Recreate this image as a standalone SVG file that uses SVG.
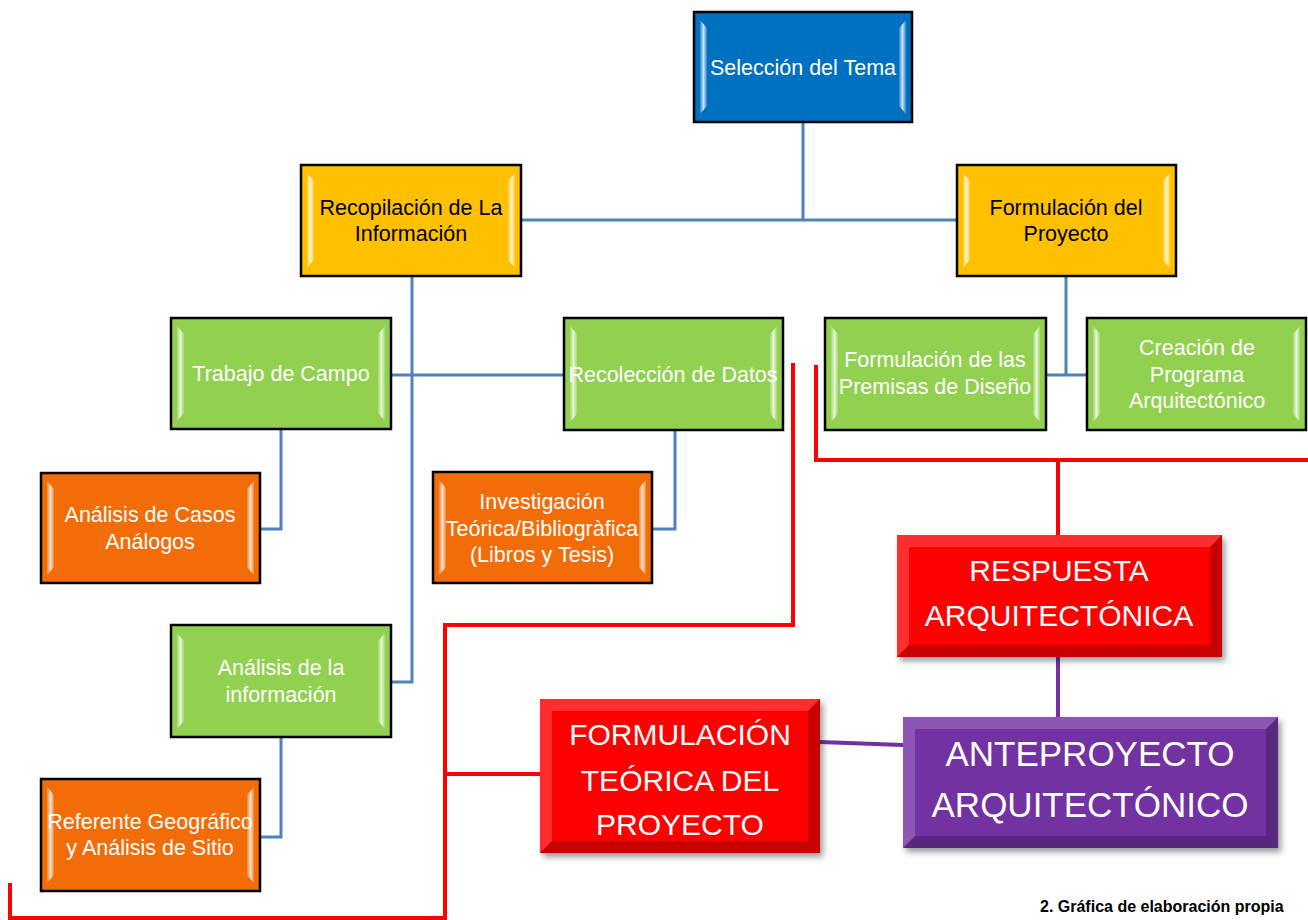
<svg xmlns="http://www.w3.org/2000/svg" width="1308" height="920" viewBox="0 0 1308 920">
<defs>
<linearGradient id="hl" x1="0" y1="0" x2="1" y2="0">
<stop offset="0" stop-color="#fff" stop-opacity="0.15"/>
<stop offset="0.5" stop-color="#fff" stop-opacity="0.8"/>
<stop offset="1" stop-color="#fff" stop-opacity="0.15"/>
</linearGradient>
<filter id="sh" x="-10%" y="-10%" width="125%" height="130%">
<feDropShadow dx="3" dy="4" stdDeviation="3" flood-color="#000" flood-opacity="0.4"/>
</filter>
<style>
.box{stroke:#000;stroke-width:2.5}
.blue{fill:#0070C0}
.yellow{fill:#FFC000}
.green{fill:#92D050}
.orange{fill:#F26C08}
.red{fill:#FF0000}
.purple{fill:#7232A2}
.hl{fill:url(#hl)}
.lt{fill:#fff;opacity:0.18}
.dk{fill:#000;opacity:0.22}
.t{font-family:"Liberation Sans",Arial,sans-serif;font-size:21.5px;text-anchor:middle;fill:#fff}
.tb{fill:#000}
.big{font-size:30px}
.big2{font-size:35px}
.cb{fill:none;stroke:#4F81BD;stroke-width:3}
.cr{fill:none;stroke:#FF0000;stroke-width:4}
.cp{fill:none;stroke:#7232A2;stroke-width:4}
.foot{font-family:"Liberation Sans",Arial,sans-serif;font-size:16px;font-weight:bold;fill:#000}
</style>
</defs>
<rect width="1308" height="920" fill="#fff"/>

<g id="connectors">
<path class="cb" d="M803,122 V220 M521,220 H957"/>
<path class="cb" d="M412,276 V682 H391 M391,375 H564"/>
<path class="cb" d="M281,429 V529 H260"/>
<path class="cb" d="M675,430 V529 H652"/>
<path class="cb" d="M281,737 V837 H260"/>
<path class="cb" d="M1066,276 V375 M1046,375 H1087"/>
<path class="cr" d="M816,365 V460 H1308 M1058,460 V535"/>
<path class="cr" d="M793,363 V625 H445 V918 H10 V883 M445,774 H540"/>
<path class="cp" d="M1058,657 V717 M820,742 L903,745"/>
</g>

<g id="n-seleccion">
<rect class="box blue" x="694" y="12" width="218" height="110"/>
<polygon class="hl" points="700,20 707,28 707,106 700,114"/>
<polygon class="hl" points="906,20 899,28 899,106 906,114"/>
<text class="t" x="803" y="75">Selección del Tema</text>
</g>

<g id="n-recopilacion">
<rect class="box yellow" x="301" y="165" width="220" height="111"/>
<polygon class="hl" points="307,173 314,181 314,260 307,268"/>
<polygon class="hl" points="515,173 508,181 508,260 515,268"/>
<text class="t tb" x="411" y="215">Recopilación de La</text>
<text class="t tb" x="411" y="241">Información</text>
</g>

<g id="n-formulacion-proyecto">
<rect class="box yellow" x="957" y="165" width="219" height="111"/>
<polygon class="hl" points="963,173 970,181 970,260 963,268"/>
<polygon class="hl" points="1170,173 1163,181 1163,260 1170,268"/>
<text class="t tb" x="1066" y="215">Formulación del</text>
<text class="t tb" x="1066" y="241">Proyecto</text>
</g>

<g id="n-trabajo">
<rect class="box green" x="171" y="318" width="220" height="111"/>
<polygon class="hl" points="177,326 184,334 184,413 177,421"/>
<polygon class="hl" points="385,326 378,334 378,413 385,421"/>
<text class="t" x="281" y="381">Trabajo de Campo</text>
</g>

<g id="n-recoleccion">
<rect class="box green" x="564" y="318" width="219" height="112"/>
<polygon class="hl" points="570,326 577,334 577,414 570,422"/>
<polygon class="hl" points="777,326 770,334 770,414 777,422"/>
<text class="t" x="673" y="382">Recolección de Datos</text>
</g>

<g id="n-premisas">
<rect class="box green" x="825" y="318" width="221" height="112"/>
<polygon class="hl" points="831,326 838,334 838,414 831,422"/>
<polygon class="hl" points="1040,326 1033,334 1033,414 1040,422"/>
<text class="t" x="935" y="367">Formulación de las</text>
<text class="t" x="935" y="394">Premisas de Diseño</text>
</g>

<g id="n-creacion">
<rect class="box green" x="1087" y="318" width="219" height="112"/>
<polygon class="hl" points="1093,326 1100,334 1100,414 1093,422"/>
<polygon class="hl" points="1300,326 1293,334 1293,414 1300,422"/>
<text class="t" x="1197" y="355">Creación de</text>
<text class="t" x="1197" y="382">Programa</text>
<text class="t" x="1197" y="408">Arquitectónico</text>
</g>

<g id="n-casos">
<rect class="box orange" x="41" y="473" width="219" height="110"/>
<polygon class="hl" points="47,481 54,489 54,567 47,575"/>
<polygon class="hl" points="254,481 247,489 247,567 254,575"/>
<text class="t" x="150" y="522">Análisis de Casos</text>
<text class="t" x="150" y="549">Análogos</text>
</g>

<g id="n-investigacion">
<rect class="box orange" x="433" y="472" width="219" height="111"/>
<polygon class="hl" points="439,480 446,488 446,567 439,575"/>
<polygon class="hl" points="646,480 639,488 639,567 646,575"/>
<text class="t" x="542" y="509">Investigación</text>
<text class="t" x="542" y="536">Teórica/Bibliogràfica</text>
<text class="t" x="542" y="562">(Libros y Tesis)</text>
</g>

<g id="n-analisis-info">
<rect class="box green" x="171" y="625" width="220" height="112"/>
<polygon class="hl" points="177,633 184,641 184,721 177,729"/>
<polygon class="hl" points="385,633 378,641 378,721 385,729"/>
<text class="t" x="281" y="675">Análisis de la</text>
<text class="t" x="281" y="702">información</text>
</g>

<g id="n-referente">
<rect class="box orange" x="41" y="779" width="219" height="112"/>
<polygon class="hl" points="47,787 54,795 54,875 47,883"/>
<polygon class="hl" points="254,787 247,795 247,875 254,883"/>
<text class="t" x="150" y="829">Referente Geográfico</text>
<text class="t" x="150" y="855">y Análisis de Sitio</text>
</g>

<g id="n-respuesta">
<g filter="url(#sh)"><rect class="red" x="897" y="535" width="325" height="122"/></g>
<polygon class="lt" points="897,535 1222,535 1210,547 909,547"/>
<polygon class="lt" points="897,535 909,547 909,645 897,657"/>
<polygon class="dk" points="1222,535 1222,657 1210,645 1210,547"/>
<polygon class="dk" points="897,657 909,645 1210,645 1222,657"/>
<text class="t big" x="1059" y="581">RESPUESTA</text>
<text class="t big" x="1059" y="626">ARQUITECTÓNICA</text>
</g>

<g id="n-anteproyecto">
<g filter="url(#sh)"><rect class="purple" x="903" y="717" width="375" height="131"/></g>
<polygon class="lt" points="903,717 1278,717 1266,729 915,729"/>
<polygon class="lt" points="903,717 915,729 915,836 903,848"/>
<polygon class="dk" points="1278,717 1278,848 1266,836 1266,729"/>
<polygon class="dk" points="903,848 915,836 1266,836 1278,848"/>
<text class="t big2" x="1090" y="766">ANTEPROYECTO</text>
<text class="t big2" x="1090" y="817">ARQUITECTÓNICO</text>
</g>

<g id="n-formulacion-teorica">
<g filter="url(#sh)"><rect class="red" x="540" y="699" width="280" height="154"/></g>
<polygon class="lt" points="540,699 820,699 808,711 552,711"/>
<polygon class="lt" points="540,699 552,711 552,841 540,853"/>
<polygon class="dk" points="820,699 820,853 808,841 808,711"/>
<polygon class="dk" points="540,853 552,841 808,841 820,853"/>
<text class="t big" x="680" y="745">FORMULACIÓN</text>
<text class="t big" x="680" y="791">TEÓRICA DEL</text>
<text class="t big" x="680" y="835">PROYECTO</text>
</g>

<text class="foot" x="1040" y="912">2. Gráfica de elaboración propia</text>
</svg>
